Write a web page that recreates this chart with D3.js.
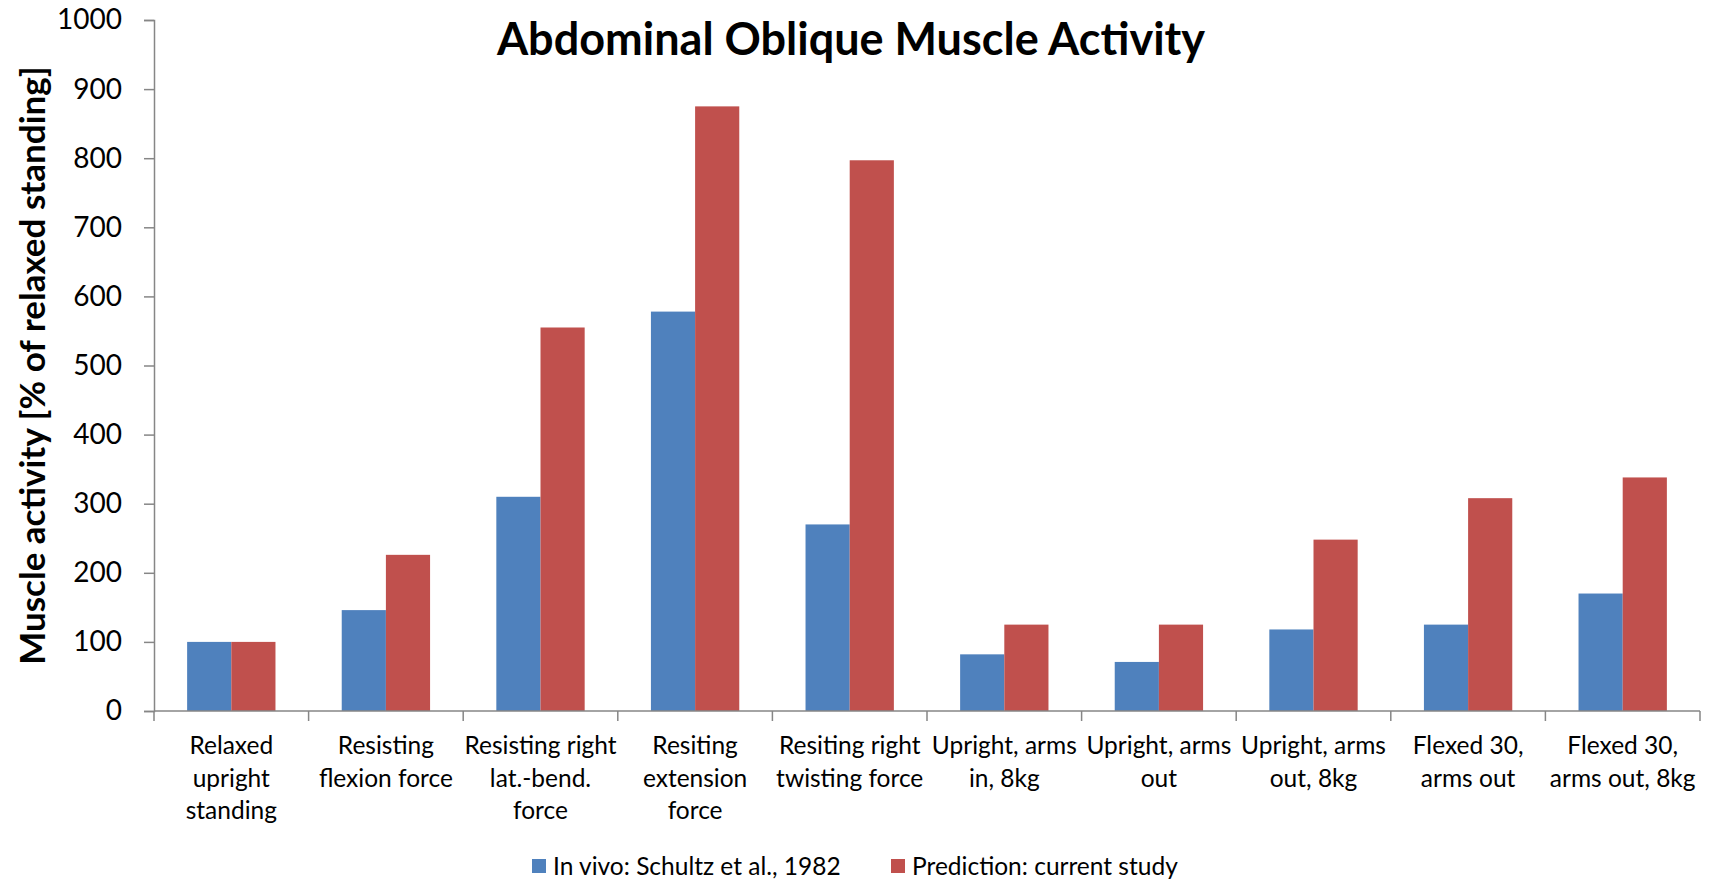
<!DOCTYPE html>
<html>
<head>
<meta charset="utf-8">
<script src="https://cdn.jsdelivr.net/npm/d3@7"></script>
<style>
  body { margin: 0; background: #fff; }
  svg text { font-family: Lato, "Open Sans", sans-serif; fill: #000; }
</style>
</head>
<body>
<script>
// Abdominal oblique muscle activity: in vivo vs prediction

var categories = [
  "Relaxed\nupright\nstanding",
  "Resisting\nflexion force",
  "Resisting right\nlat.-bend.\nforce",
  "Resiting\nextension\nforce",
  "Resiting right\ntwisting force",
  "Upright, arms\nin, 8kg",
  "Upright, arms\nout",
  "Upright, arms\nout, 8kg",
  "Flexed 30,\narms out",
  "Flexed 30,\narms out, 8kg"
];
var inVivo     = [100, 146, 310, 578, 270, 82, 71, 118, 125, 170];
var prediction = [100, 226, 555, 875, 797, 125, 125, 248, 308, 338];
var seriesNames = ["In vivo: Schultz et al., 1982", "Prediction: current study"];
var yTicks = [0, 100, 200, 300, 400, 500, 600, 700, 800, 900, 1000];

var colors = ["#4F81BD", "#C0504D"];

var totalW = 1715, totalH = 881;
var margin = {top: 20, right: 15, bottom: 170, left: 154};
var width = totalW - margin.left - margin.right;
var height = totalH - margin.top - margin.bottom;

var svg = d3.select("body").append("svg")
    .attr("width", totalW)
    .attr("height", totalH);

var g = svg.append("g")
    .attr("transform", "translate(" + margin.left + "," + margin.top + ")");

var xScale = d3.scaleBand().domain(d3.range(categories.length)).range([0, width]);
// Excel style gap width 150%: bar = band / 3.5
var inner = d3.scaleBand().domain([0, 1]).range([0, xScale.bandwidth() * 2 / 3.5]);
var offset = xScale.bandwidth() * 0.75 / 3.5;

var yScale = d3.scaleLinear().domain([0, 1000]).range([height, 0]);

var data = categories.map(function(c, i) {
    return {i: i, values: [inVivo[i], prediction[i]]};
});

// bars
var groups = g.selectAll(".cat")
    .data(data)
    .enter().append("g")
    .attr("class", "cat")
    .attr("transform", function(d) { return "translate(" + (xScale(d.i) + offset) + ",0)"; });

groups.selectAll("rect")
    .data(function(d) { return d.values; })
    .enter().append("rect")
    .attr("x", function(d, j) { return inner(j); })
    .attr("width", inner.bandwidth())
    .attr("y", function(d) { return yScale(d); })
    .attr("height", function(d) { return height - yScale(d); })
    .attr("fill", function(d, j) { return colors[j]; });

// y axis
var yAxis = g.append("g")
    .call(d3.axisLeft(yScale).tickValues(yTicks).tickFormat(d3.format("d")).tickSize(10).tickPadding(22));
yAxis.selectAll("path, line").attr("stroke", "#868686").attr("stroke-width", 1.5);
yAxis.selectAll("text").style("font-size", "28px").style("font-family", "Lato, sans-serif").attr("fill", "#000");

// x axis: ticks between categories
var xAxisG = g.append("g").attr("transform", "translate(0," + height + ")");
xAxisG.append("line")
    .attr("x1", 0).attr("x2", width)
    .attr("stroke", "#868686").attr("stroke-width", 1.5);
xAxisG.selectAll(".xtick")
    .data(d3.range(categories.length + 1))
    .enter().append("line")
    .attr("class", "xtick")
    .attr("x1", function(d) { return d * xScale.step(); })
    .attr("x2", function(d) { return d * xScale.step(); })
    .attr("y1", 0).attr("y2", 10)
    .attr("stroke", "#868686").attr("stroke-width", 1.5);

// category labels
var labels = xAxisG.selectAll(".xlabel")
    .data(categories)
    .enter().append("text")
    .attr("class", "xlabel")
    .attr("text-anchor", "middle")
    .style("font-size", "24.5px")
    .attr("transform", function(d, i) { return "translate(" + (xScale(i) + xScale.bandwidth() / 2) + ",43)"; });
labels.selectAll("tspan")
    .data(function(d) { return d.split("\n"); })
    .enter().append("tspan")
    .attr("x", 0)
    .attr("dy", function(d, k) { return k === 0 ? 0 : 32.5; })
    .text(function(d) { return d; });

// title
svg.append("text")
    .attr("x", 851)
    .attr("y", 55)
    .attr("text-anchor", "middle")
    .style("font-size", "45px")
    .style("font-weight", "bold")
    .text("Abdominal Oblique Muscle Activity");

// y label
svg.append("text")
    .attr("transform", "rotate(-90)")
    .attr("x", -(margin.top + height / 2))
    .attr("y", 45)
    .attr("text-anchor", "middle")
    .style("font-size", "35px")
    .style("font-weight", "bold")
    .text("Muscle activity [% of relaxed standing]");

// legend
var legendX = [532, 891];
var legend = svg.selectAll(".legend")
    .data(seriesNames)
    .enter().append("g")
    .attr("class", "legend")
    .attr("transform", function(d, i) { return "translate(" + legendX[i] + ",866)"; });
legend.append("rect")
    .attr("x", 0).attr("y", -7)
    .attr("width", 14).attr("height", 14)
    .attr("fill", function(d, i) { return colors[i]; });
legend.append("text")
    .attr("x", 21)
    .attr("y", 9)
    .style("font-size", "24.5px")
    .text(function(d) { return d; });
</script>
</body>
</html>
